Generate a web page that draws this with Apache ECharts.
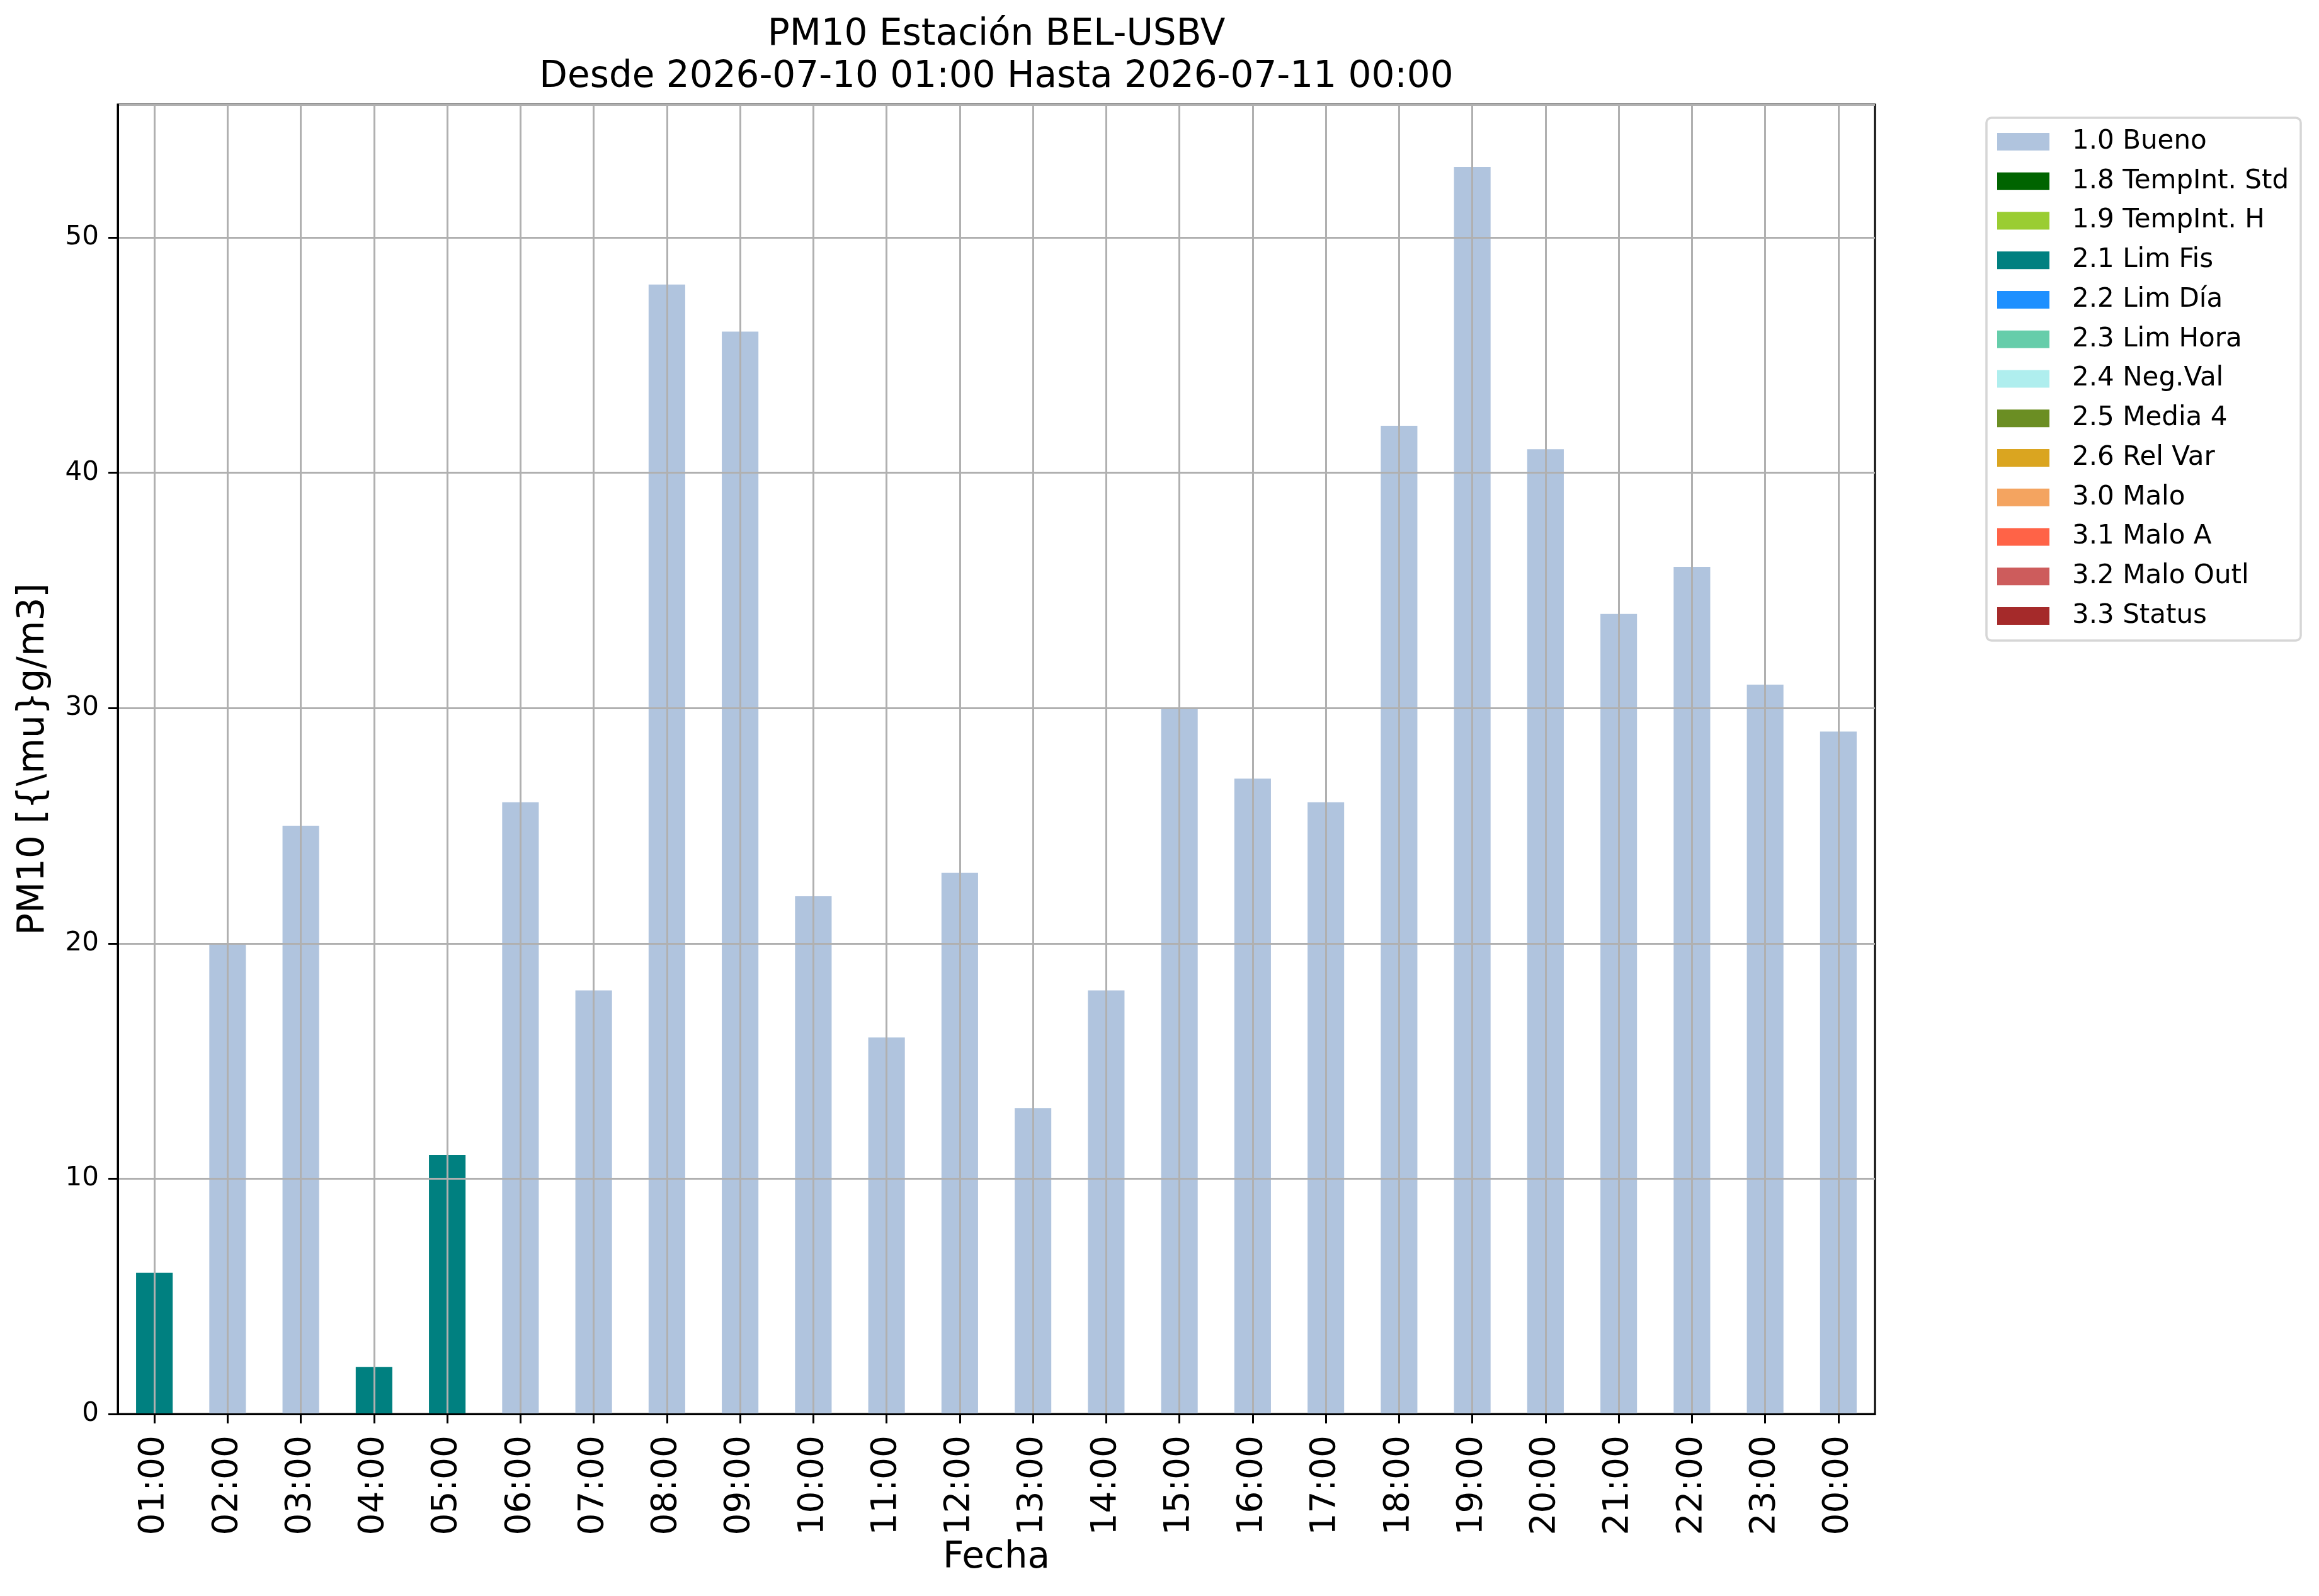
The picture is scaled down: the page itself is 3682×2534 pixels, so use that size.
<!DOCTYPE html>
<html>
<head>
<meta charset="utf-8">
<script src="https://cdn.jsdelivr.net/npm/echarts@6/dist/echarts.min.js"></script>
<style>
html,body{margin:0;padding:0;background:#fff;}
#chart{width:3682px;height:2534px;}
</style>
</head>
<body>
<div id="chart"></div>
<script>
// ---- data ----
const hours = ["01:00","02:00","03:00","04:00","05:00","06:00","07:00","08:00","09:00","10:00","11:00","12:00",
               "13:00","14:00","15:00","16:00","17:00","18:00","19:00","20:00","21:00","22:00","23:00","00:00"];
const pm10 = [6,20,25,2,11,26,18,48,46,22,16,23,13,18,30,27,26,42,53,41,34,36,31,29];
const flags = ["2.1 Lim Fis","1.0 Bueno","1.0 Bueno","2.1 Lim Fis","2.1 Lim Fis","1.0 Bueno","1.0 Bueno","1.0 Bueno",
               "1.0 Bueno","1.0 Bueno","1.0 Bueno","1.0 Bueno","1.0 Bueno","1.0 Bueno","1.0 Bueno","1.0 Bueno",
               "1.0 Bueno","1.0 Bueno","1.0 Bueno","1.0 Bueno","1.0 Bueno","1.0 Bueno","1.0 Bueno","1.0 Bueno"];
const statusNames = ["1.0 Bueno","1.8 TempInt. Std","1.9 TempInt. H","2.1 Lim Fis","2.2 Lim Día","2.3 Lim Hora",
                     "2.4 Neg.Val","2.5 Media 4","2.6 Rel Var","3.0 Malo","3.1 Malo A","3.2 Malo Outl","3.3 Status"];
const statusColors = ["#B0C4DE","#006400","#9ACD32","#008080","#1E90FF","#66CDAA",
                      "#AFEEEE","#6B8E23","#DAA520","#F4A460","#FF6347","#CD5C5C","#A52A2A"];
const yTicks = [0,10,20,30,40,50];
const titleText = "PM10 Estación BEL-USBV\nDesde 2026-07-10 01:00 Hasta 2026-07-11 00:00";
const yName = "PM10 [{\\mu}g/m3]";
const xName = "Fecha";

// ---- chart ----
const FONT = "DejaVu Sans";
const chart = echarts.init(document.getElementById('chart'), null, {renderer:'canvas'});
const yMax = Math.max(...pm10) * 1.05;

const series = statusNames.map((name, k) => ({
  name: name,
  type: 'bar',
  stack: 'total',
  barWidth: '50%',
  itemStyle: {color: statusColors[k]},
  emphasis: {disabled: true},
  data: pm10.map((v, i) => flags[i] === name ? v : '-')
}));

chart.setOption({
  animation: false,
  backgroundColor: '#ffffff',
  title: {
    text: titleText,
    left: 1582,
    top: 22,
    padding: 0,
    textAlign: 'center',
    textStyle: {fontFamily: FONT, fontSize: 58, fontWeight: 'normal', color: '#000', lineHeight: 67}
  },
  legend: {
    orient: 'vertical',
    left: 3154,
    top: 187,
    padding: [17, 19, 18, 17],
    itemWidth: 83,
    itemHeight: 28,
    itemGap: 20.75,
    icon: 'rect',
    backgroundColor: '#ffffff',
    borderColor: '#d6d6d6',
    borderWidth: 3.5,
    borderRadius: 8,
    data: statusNames,
    textStyle: {fontFamily: FONT, fontSize: 42, color: '#000', padding: [0,0,0,31]}
  },
  grid: {
    left: 187, right: 705, top: 166, bottom: 289,
    show: true, borderColor: '#000', borderWidth: 3, backgroundColor: 'transparent'
  },
  xAxis: {
    type: 'category',
    data: hours,
    z: 5,
    name: xName,
    nameLocation: 'middle',
    nameGap: 198,
    nameTextStyle: {fontFamily: FONT, fontSize: 58, color: '#000'},
    axisLine: {show: true, lineStyle: {color: '#000', width: 3}},
    axisTick: {show: true, alignWithLabel: true, length: 15, lineStyle: {color: '#000', width: 3}},
    axisLabel: {rotate: 90, margin: 34, interval: 0, fontFamily: FONT, fontSize: 55, color: '#000'},
    splitLine: {show: true, alignWithLabel: true, interval: 0, lineStyle: {color: '#b0b0b0', width: 3}}
  },
  yAxis: {
    type: 'value',
    min: 0,
    max: yMax,
    interval: 10,
    z: 5,
    name: yName,
    nameLocation: 'middle',
    nameRotate: 90,
    nameGap: 104,
    nameTextStyle: {fontFamily: FONT, fontSize: 58, color: '#000'},
    axisLine: {show: true, lineStyle: {color: '#000', width: 3}},
    axisTick: {show: true, length: 15, lineStyle: {color: '#000', width: 3}},
    axisLabel: {
      margin: 30, fontFamily: FONT, fontSize: 42, color: '#000', showMaxLabel: false,
      formatter: v => (yTicks.indexOf(v) >= 0 ? String(v) : '')
    },
    splitLine: {show: true, lineStyle: {color: '#b0b0b0', width: 3}}
  },
  series: series
});
</script>
</body>
</html>
